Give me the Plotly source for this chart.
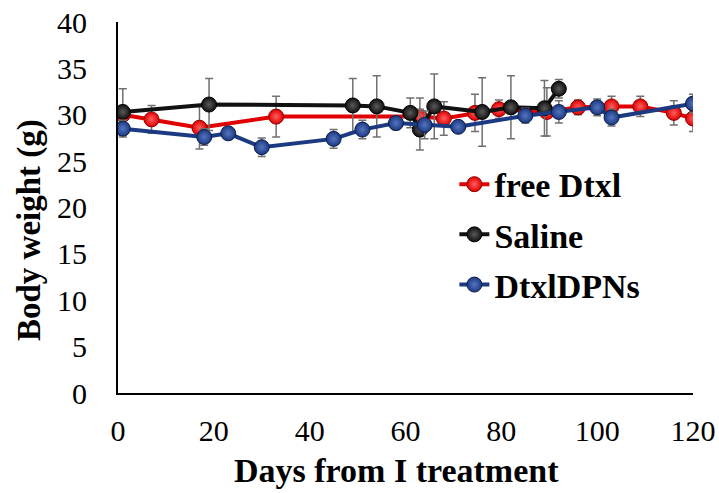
import plotly.graph_objects as go

# ---- data ----
free_days = [1, 7, 17, 33, 63, 68, 74.5, 79.5, 89.5, 96, 103, 109, 116, 120]
free_bw = [30.0, 29.5, 28.6, 29.8, 29.8, 29.6, 30.2, 30.6, 30.3, 30.8, 30.9, 30.9, 30.2, 29.6]
free_err = [1.0, 1.5, 2.3, 2.2, 2.0, 1.8, 2.0, 1.0, 2.6, 0.8, 1.1, 1.1, 1.3, 1.4]

saline_days = [1, 19, 49, 54, 61, 63, 66, 76, 82, 89, 92]
saline_bw = [30.3, 31.1, 31.0, 30.9, 30.2, 28.4, 30.9, 30.3, 30.8, 30.7, 32.8]
saline_err = [2.5, 2.8, 2.9, 3.3, 1.6, 2.2, 3.5, 3.7, 3.4, 3.0, 1.0]

dpn_days = [1, 18, 23, 30, 45, 51, 58, 64, 71, 85, 92, 100, 103, 120]
dpn_bw = [28.5, 27.6, 28.0, 26.5, 27.4, 28.4, 29.1, 28.9, 28.7, 29.9, 30.3, 30.8, 29.7, 31.2]
dpn_err = [0.9, 0.9, 0.6, 1.0, 1.0, 1.0, 0.7, 1.5, 0.6, 0.8, 1.2, 0.9, 0.9, 1.0]

x_ticks = [0, 20, 40, 60, 80, 100, 120]
y_ticks = [0, 5, 10, 15, 20, 25, 30, 35, 40]

FONT = "Liberation Serif, Times New Roman, serif"

series = [
    ("free Dtxl", free_days, free_bw, free_err, "#E00000", "#FF6060", "#900000"),
    ("Saline", saline_days, saline_bw, saline_err, "#111111", "#5a5a5a", "#000000"),
    ("DtxlDPNs", dpn_days, dpn_bw, dpn_err, "#1B3A82", "#5574c0", "#0c1d48"),
]

fig = go.Figure()
for name, xs, ys, es, col, light, dark in series:
    fig.add_trace(go.Scatter(
        x=xs, y=ys, name=name, legendgroup=name, mode="lines+markers",
        line=dict(color=col, width=4),
        marker=dict(size=15, color=col, line=dict(color=dark, width=1),
                    gradient=dict(type="radial", color=light)),
        error_y=dict(type="data", array=es, visible=True, color="#707070",
                     thickness=1.5, width=4),
    ))

W, H = 719, 493
L, T = 118, 22
PW, PH = 575, 371

fig.update_layout(
    width=W, height=H,
    margin=dict(l=L, r=W - L - PW, t=T, b=H - T - PH, autoexpand=False),
    paper_bgcolor="white", plot_bgcolor="white",
    font=dict(family=FONT, color="black", size=30),
    showlegend=True,
    legend=dict(
        x=0.585, y=0.64, xanchor="left", yanchor="top",
        bgcolor="rgba(0,0,0,0)",
        font=dict(family=FONT, size=34, color="black", weight="bold"),
        tracegroupgap=3, itemwidth=30,
    ),
    xaxis=dict(
        range=[0, 120], tickvals=x_ticks, ticktext=[str(v) for v in x_ticks],
        showgrid=False, zeroline=False, showline=True, linecolor="black", linewidth=2,
        ticks="", ticklabelstandoff=10, automargin=False, ticklabeloverflow="allow",
        tickfont=dict(family=FONT, size=30, color="black"),
    ),
    yaxis=dict(
        range=[0, 40], tickvals=y_ticks, ticktext=[str(v) for v in y_ticks],
        showgrid=False, zeroline=False, showline=True, linecolor="black", linewidth=2,
        ticks="", ticklabelstandoff=23, automargin=False, ticklabeloverflow="allow",
        tickfont=dict(family=FONT, size=30, color="black"),
    ),
    annotations=[
        dict(text="<b>Days from I treatment</b>", xref="paper", yref="paper",
             x=(396 - L) / PW, y=-(471 - 393) / PH, xanchor="center", yanchor="middle",
             showarrow=False, font=dict(family=FONT, size=34, color="black")),
        dict(text="<b>Body weight (g)</b>", xref="paper", yref="paper",
             x=-(L - 29) / PW, y=(393 - 230) / PH, xanchor="center", yanchor="middle",
             textangle=-90, showarrow=False, font=dict(family=FONT, size=33, color="black")),
    ],
)

# remove the default 8px page margin so the 719x493 figure fills the window exactly
fig.write_html("out.html", config={"displayModeBar": False},
               post_script="document.body.style.margin='0';")
